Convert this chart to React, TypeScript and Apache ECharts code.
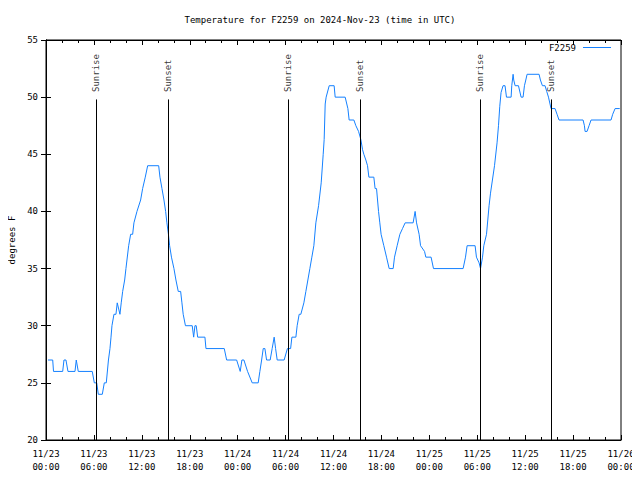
import React, { useEffect, useRef } from "react";
import * as echarts from "echarts";

// Hours since 2024-11-23 00:00 UTC
const hours = [
  0.25, 0.84, 0.94, 2.09, 2.25, 2.5, 2.75, 3.63, 3.79, 4.04,
  5.79, 6.05, 6.35, 6.55, 7.05, 7.3, 7.55, 7.82, 8.01, 8.14,
  8.26, 8.51, 8.76, 8.92, 9.26, 9.42, 9.6, 9.85, 10.01, 10.35,
  10.6, 10.85, 11.01, 11.39, 11.85, 12.1, 12.43, 12.73, 14.11, 14.27,
  14.52, 14.77, 14.98, 15.14, 15.33, 15.48, 15.71, 16.02, 16.27, 16.56,
  16.86, 17.02, 17.18, 17.46, 18.31, 18.49, 18.65, 18.81, 18.99, 19.9,
  20.03, 22.32, 22.62, 23.87, 24.32, 24.53, 24.78, 25.24, 25.82, 26.57,
  26.78, 27.0, 27.2, 27.41, 27.62, 28.07, 28.32, 28.57, 28.75, 28.95,
  29.82, 30.23, 30.63, 30.79, 31.29, 31.45, 31.7, 31.91, 32.29, 32.54,
  32.79, 33.04, 33.29, 33.54, 33.79, 34.13, 34.46, 34.71, 34.83, 34.96,
  35.08, 35.46, 36.08, 36.21, 37.46, 37.8, 37.96, 38.55, 38.8, 39.14,
  39.42, 39.64, 39.8, 40.05, 40.26, 40.43, 41.05, 41.21, 41.39, 41.64,
  41.8, 41.96, 42.3, 42.64, 42.97, 43.47, 43.64, 43.97, 44.31, 44.64,
  44.97, 45.97, 46.22, 46.4, 46.72, 46.9, 47.4, 47.56, 48.22, 48.52,
  52.23, 52.53, 52.73, 53.73, 53.9, 54.23, 54.41, 54.66, 54.82, 55.16,
  55.48, 55.66, 56.16, 56.48, 56.66, 56.82, 56.98, 57.23, 57.48, 57.66,
  58.24, 58.32, 58.49, 58.57, 58.74, 59.16, 59.49, 59.74, 59.91, 60.08,
  60.24, 61.74, 61.91, 62.16, 62.49, 62.7, 62.92, 63.24, 63.74, 63.99,
  64.24, 67.25, 67.42, 67.5, 67.75, 68.0, 68.25, 70.75, 70.96, 71.26,
  71.84,
];

// Temperature, degrees F
const temps = [
  27, 27, 26, 26, 27, 27, 26, 26, 27, 26,
  26, 25, 25, 24, 24, 25, 25, 27, 28, 29,
  30, 31, 31, 32, 31, 32, 33, 34, 35, 37,
  38, 38, 39, 40, 41, 42, 43, 44, 44, 43,
  42, 41, 40, 39, 38, 37, 36, 35, 34, 33,
  33, 32, 31, 30, 30, 29, 30, 30, 29, 29,
  28, 28, 27, 27, 26, 27, 27, 26, 25, 25,
  26, 27, 28, 28, 27, 27, 28, 29, 28, 27,
  27, 28, 28, 29, 29, 30, 31, 31, 32, 33,
  34, 35, 36, 37, 39, 40.5, 42.5, 45, 46.3, 49.4,
  50, 51, 51, 50, 50, 49, 48, 48, 47.5, 47,
  46.3, 45.4, 45, 44.5, 44, 43, 43, 42, 42, 40,
  39, 38, 37, 36, 35, 35, 36, 37, 38, 38.5,
  39, 39, 40, 39, 38, 37, 36.5, 36, 36, 35,
  35, 36, 37, 37, 36, 35.5, 35, 36, 37, 38,
  40.5, 41.6, 44, 46, 47.5, 49.2, 50.4, 51, 51, 50,
  50, 51, 52, 51.5, 51, 51, 50, 50, 51, 51.5,
  52, 52, 51.5, 51, 51, 50.5, 50, 49, 49, 48.5,
  48, 48, 47.5, 47, 47, 47.5, 48, 48, 48.5, 49,
  49,
];

const sunriseHours = [6.3, 30.32, 54.38];
const sunsetHours = [15.3, 39.32, 63.26];

const xTickLabels = [
  "11/23\n00:00", "11/23\n06:00", "11/23\n12:00", "11/23\n18:00",
  "11/24\n00:00", "11/24\n06:00", "11/24\n12:00", "11/24\n18:00",
  "11/25\n00:00", "11/25\n06:00", "11/25\n12:00", "11/25\n18:00",
  "11/26\n00:00",
];

const seriesName = "F2259";
const titleText = "Temperature for F2259 on 2024-Nov-23 (time in UTC)";

export default function App() {
  const ref = useRef<HTMLDivElement>(null);

  useEffect(() => {
    if (!ref.current) return;
    const chart = echarts.init(ref.current, null, { renderer: "svg" });
    const font = "DejaVu Sans Mono";
    const lineColor = "#1480ff";
    const data = hours.map((h, i) => [h, temps[i]]);
    const events = [
      ...sunriseHours.map((h) => ({ h, name: "Sunrise" })),
      ...sunsetHours.map((h) => ({ h, name: "Sunset" })),
    ];
    const tickStyle = { color: "#000", width: 1 };
    const baseX = {
      type: "value",
      min: 0,
      max: 72,
      interval: 6,
      axisLine: { show: true, lineStyle: tickStyle },
      axisTick: { show: true, inside: true, length: 5, lineStyle: tickStyle },
      minorTick: { show: true, splitNumber: 3, length: 3, lineStyle: tickStyle },
      splitLine: { show: false },
    };
    const baseY = {
      type: "value",
      min: 20,
      max: 55,
      interval: 5,
      axisLine: { show: true, lineStyle: tickStyle },
      axisTick: { show: true, inside: true, length: 5, lineStyle: tickStyle },
      splitLine: { show: false },
    };

    chart.setOption({
      animation: false,
      title: {
        text: titleText,
        left: "center",
        top: 10,
        textStyle: { fontFamily: font, fontSize: 9, fontWeight: "normal", color: "#000" },
      },
      legend: {
        data: [seriesName],
        right: 29,
        top: 43,
        padding: 0,
        align: "right",
        icon: "rect",
        itemWidth: 28,
        itemHeight: 1,
        itemStyle: { color: lineColor },
        textStyle: { fontFamily: font, fontSize: 9, color: "#000", padding: [0, 2, 0, 0] },
      },
      grid: {
        left: 46,
        right: 19,
        top: 40,
        bottom: 40,
        show: true,
        borderColor: "#000",
        borderWidth: 1,
        outerBoundsMode: "none",
        containLabel: false,
      },
      xAxis: [
        {
          ...baseX,
          position: "bottom",
          axisLabel: {
            formatter: (v: number) => xTickLabels[Math.round(v / 6)] ?? "",
            fontFamily: font,
            fontSize: 9,
            color: "#000",
            lineHeight: 13,
            margin: 7,
          },
        },
        { ...baseX, position: "top", axisLabel: { show: false } },
      ],
      yAxis: [
        {
          ...baseY,
          position: "left",
          name: "degrees F",
          nameLocation: "middle",
          nameRotate: 90,
          nameGap: 29,
          nameTextStyle: { fontFamily: font, fontSize: 9, color: "#000" },
          axisLabel: { fontFamily: font, fontSize: 9, color: "#000", margin: 8 },
        },
        { ...baseY, position: "right", axisLabel: { show: false } },
      ],
      series: [
        {
          type: "line",
          name: seriesName,
          data,
          symbol: "none",
          showSymbol: false,
          lineStyle: { color: lineColor, width: 1 },
          itemStyle: { color: lineColor },
          markLine: {
            silent: true,
            symbol: ["none", "none"],
            label: { show: false },
            lineStyle: { color: "#000", width: 1, type: "solid" },
            emphasis: { disabled: true },
            data: events.map((e) => [{ coord: [e.h, 20] }, { coord: [e.h, 49.8] }]),
          },
        },
        {
          type: "scatter",
          name: "events",
          silent: true,
          symbolSize: 0,
          data: events.map((e) => ({ value: [e.h, 50.45], name: e.name })),
          label: {
            show: true,
            position: "inside",
            formatter: "{b}",
            rotate: 90,
            align: "left",
            verticalAlign: "middle",
            fontFamily: font,
            fontSize: 9,
            color: "#000",
          },
        },
      ],
    });

    return () => chart.dispose();
  }, []);

  return <div ref={ref} style={{ width: 640, height: 480, margin: -8 }} />;
}
